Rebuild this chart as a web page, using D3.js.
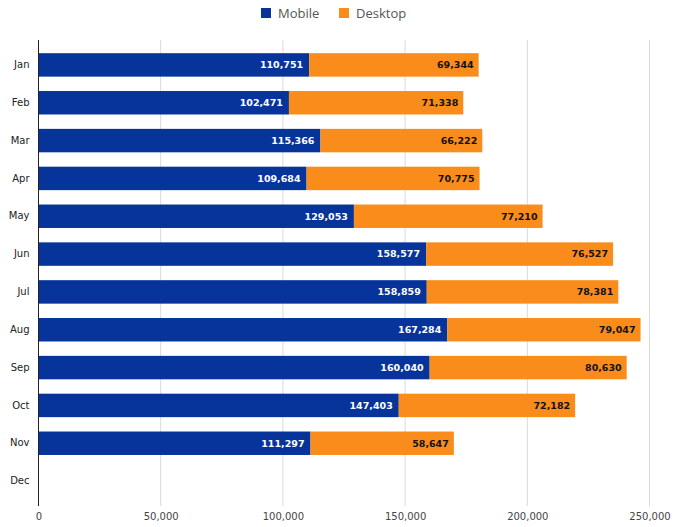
<!DOCTYPE html>
<html>
<head>
<meta charset="utf-8">
<script src="https://cdn.jsdelivr.net/npm/d3@7"></script>
<style>
  body { margin: 0; background: #fff; }
</style>
</head>
<body>
<div id="chart"></div>
<script>
// chart data
var months = ["Jan", "Feb", "Mar", "Apr", "May", "Jun", "Jul", "Aug", "Sep", "Oct", "Nov", "Dec"];
var mobile = [110751, 102471, 115366, 109684, 129053, 158577, 158859, 167284, 160040, 147403, 111297, null];
var desktop = [69344, 71338, 66222, 70775, 77210, 76527, 78381, 79047, 80630, 72182, 58647, null];
var xTicks = [0, 50000, 100000, 150000, 200000, 250000];
var seriesNames = ["Mobile", "Desktop"];
var colors = ["#06349a", "#fa8c1c"];

var width = 673, height = 527;
var plotTop = 40, plotBottom = 506;

var svg = d3.select("#chart").append("svg")
  .attr("width", width)
  .attr("height", height);

var x = d3.scaleLinear()
  .domain([0, 250000])
  .range([38.5, 649.5]);

var y = d3.scaleBand()
  .domain(months)
  .range([46, 500])
  .paddingInner(0.38)
  .paddingOuter(0.19);

var fmt = d3.format(",");

// grid lines
svg.append("g")
  .selectAll("line")
  .data(xTicks.slice(1))
  .enter()
  .append("line")
    .attr("x1", function (d) { return x(d); })
    .attr("x2", function (d) { return x(d); })
    .attr("y1", plotTop)
    .attr("y2", plotBottom)
    .style("stroke", "#d9d9d9")
    .style("stroke-width", 1);

// x axis (labels only)
var xAxis = svg.append("g")
  .attr("transform", "translate(0," + plotBottom + ")")
  .call(d3.axisBottom(x).tickValues(xTicks).tickFormat(fmt).tickSize(0).tickPadding(7));
xAxis.select(".domain").remove();
xAxis.selectAll("text")
  .style("font-family", "'DejaVu Sans', Verdana, sans-serif")
  .style("font-size", "10px")
  .style("fill", "#444");

// bars
var rows = months.map(function (m, i) { return { month: m, mobile: mobile[i], desktop: desktop[i] }; });

var barG = svg.append("g");
rows.forEach(function (d) {
  if (d.mobile == null) return;
  var m0 = x(0), m1 = x(d.mobile), d1 = x(d.mobile + d.desktop);
  barG.append("rect")
    .attr("x", m0).attr("y", y(d.month))
    .attr("width", m1 - m0).attr("height", y.bandwidth())
    .style("fill", colors[0]);
  barG.append("rect")
    .attr("x", m1).attr("y", y(d.month))
    .attr("width", d1 - m1).attr("height", y.bandwidth())
    .style("fill", colors[1]);
  barG.append("text")
    .attr("x", m1 - 6).attr("y", y(d.month) + y.bandwidth() / 2)
    .attr("dy", "0.35em")
    .attr("text-anchor", "end")
    .style("font-family", "'DejaVu Sans', Verdana, sans-serif")
    .style("font-weight", "bold")
    .style("font-size", "9.5px")
    .style("fill", "#fff")
    .text(fmt(d.mobile));
  barG.append("text")
    .attr("x", d1 - 5).attr("y", y(d.month) + y.bandwidth() / 2)
    .attr("dy", "0.35em")
    .attr("text-anchor", "end")
    .style("font-family", "'DejaVu Sans', Verdana, sans-serif")
    .style("font-weight", "bold")
    .style("font-size", "9.5px")
    .style("fill", "#111")
    .text(fmt(d.desktop));
});

// y axis
var yAxis = svg.append("g")
  .attr("transform", "translate(" + x(0) + ",0)")
  .call(d3.axisLeft(y).tickSize(0).tickPadding(9));
yAxis.select(".domain").remove();
yAxis.selectAll("text")
  .style("font-family", "'DejaVu Sans', Verdana, sans-serif")
  .style("font-size", "10px")
  .style("fill", "#222");
svg.append("line")
  .attr("x1", x(0)).attr("x2", x(0))
  .attr("y1", plotTop).attr("y2", plotBottom)
  .style("stroke", "#222")
  .style("stroke-width", 1);

// legend
var legendItems = [{ name: seriesNames[0], x: 261, color: colors[0] }, { name: seriesNames[1], x: 339, color: colors[1] }];
var legend = svg.append("g");
legendItems.forEach(function (it) {
  legend.append("rect")
    .attr("x", it.x).attr("y", 8)
    .attr("width", 10).attr("height", 10)
    .style("fill", it.color);
  legend.append("text")
    .attr("x", it.x + 17).attr("y", 13)
    .attr("dy", "0.35em")
    .style("font-family", "'Open Sans', sans-serif")
    .style("font-size", "13px")
    .style("fill", "#555")
    .text(it.name);
});
</script>
</body>
</html>
